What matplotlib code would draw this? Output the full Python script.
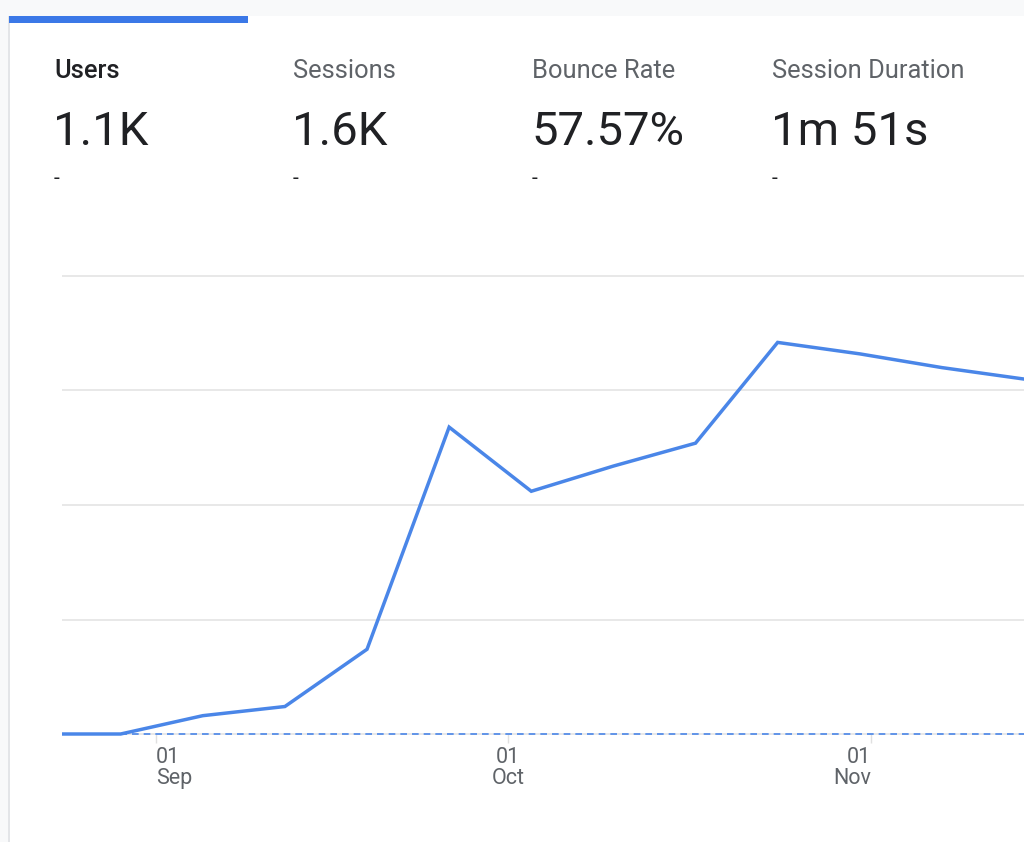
import numpy as np
import pandas as pd
import matplotlib.pyplot as plt
from matplotlib.patches import Rectangle

plt.rcParams['font.family'] = ['Roboto', 'DejaVu Sans']

# summary cards
metric_names = ['Users', 'Sessions', 'Bounce Rate', 'Session Duration']
metric_values = ['1.1K', '1.6K', '57.57%', '1m 51s']

# weekly users
weeks = ['2023-08-22', '2023-08-29', '2023-09-05', '2023-09-12', '2023-09-19',
         '2023-09-26', '2023-10-03', '2023-10-10', '2023-10-17', '2023-10-24',
         '2023-10-31', '2023-11-07', '2023-11-14']
users = [0, 0, 8, 12, 37, 134, 106, 117, 127, 171, 166, 160, 155]

tick_dates = ['2023-09-01', '2023-10-01', '2023-11-01']
tick_labels = ['01\nSep', '01\nOct', '01\nNov']

W, H = 1024, 842
fig = plt.figure(figsize=(W / 100, H / 100), dpi=100)
fig.patch.set_facecolor('#f8f9fa')

def fx(x):
    return x / W

def fy(y):
    return 1 - y / H

# card + selected tab
fig.patches.append(Rectangle((fx(9), 0), 1, fy(16), transform=fig.transFigure,
                             facecolor='white', edgecolor='none', zorder=0))
fig.patches.append(Rectangle((fx(8), 0), fx(1.5), fy(16), transform=fig.transFigure,
                             facecolor='#e3e5e8', edgecolor='none', zorder=0))
fig.patches.append(Rectangle((fx(9), fy(23)), fx(239), fy(16) - fy(23), transform=fig.transFigure,
                             facecolor='#3b78e7', edgecolor='none', zorder=1))

xs = [54, 293, 532, 772]
for i, (name, val) in enumerate(zip(metric_names, metric_values)):
    first = i == 0
    fig.text(fx(xs[i]), fy(71), name, fontsize=18.4, va='center', ha='left', zorder=3,
             color='#202124' if first else '#5f6368', fontweight='medium' if first else 'normal')
    fig.text(fx(xs[i] - 1), fy(132), val, fontsize=34, va='center', ha='left', zorder=3,
             color='#202124', fontweight='normal')
    fig.text(fx(xs[i]), fy(179), '-', fontsize=15, va='center', ha='left', color='#202124', zorder=3)

# chart area: 0 -> y=734px, 200 -> y=276px
pad = 5
ppu = (734 - 276) / 200
top = 276 - pad * ppu
bot = 734 + pad * ppu
ax = fig.add_axes([fx(62), fy(bot), fx(1024) - fx(62), fy(top) - fy(bot)])
ax.set_zorder(5)
ax.set_facecolor('none')

d = pd.to_datetime(weeks)
ax.set_xlim(pd.Timestamp('2023-08-24'), pd.Timestamp('2023-11-14'))
ax.set_ylim(-pad, 200 + pad)

for v in [50, 100, 150, 200]:
    ax.axhline(v, color='#e6e6e6', lw=1.3, zorder=1)
ax.axhline(0, color='#e6e6e6', lw=1.3, zorder=1)
ax.axhline(0, color='#4a86e8', lw=1.2, ls=(0, (4, 3)), zorder=2)

ax.plot(d, users, color='#4a86e8', lw=2.5, solid_joinstyle='miter', zorder=3)

for s in ax.spines.values():
    s.set_visible(False)
ax.spines['bottom'].set_position(('data', 0))
ax.set_yticks([])
ax.set_xticks(pd.to_datetime(tick_dates))
ax.set_xticklabels(tick_labels, fontsize=15.5, color='#5f6368', linespacing=1.0)
ax.tick_params(axis='x', length=6.5, width=1, color='#e0e0e0', pad=3, direction='out')
for lab, ha in zip(ax.get_xticklabels(), ['left', 'center', 'right']):
    lab.set_ha(ha)

fig.savefig('out.png', dpi=100, facecolor=fig.get_facecolor())
